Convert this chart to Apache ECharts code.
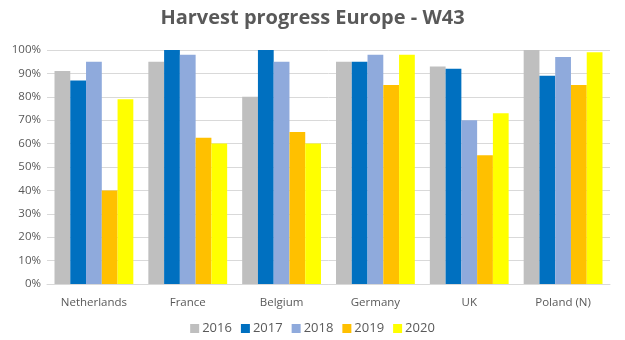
<!DOCTYPE html>
<html><head><meta charset="utf-8">
<script src="https://cdn.jsdelivr.net/npm/echarts@6/dist/echarts.min.js"></script>
<style>html,body{margin:0;padding:0;background:#fff}#c{width:625px;height:340px}</style>
</head><body><div id="c"></div>
<script>
const categories = ["Netherlands","France","Belgium","Germany","UK","Poland (N)"];
const years = ["2016","2017","2018","2019","2020"];
const v2016 = [91, 95, 80, 95, 93, 100];
const v2017 = [87, 100, 100, 95, 92, 89];
const v2018 = [95, 98, 95, 98, 70, 97];
const v2019 = [40, 62.5, 65, 85, 55, 85];
const v2020 = [79, 60, 60, 98, 73, 99];
const colors = ["#bfbfbf","#0070c0","#8faadc","#ffc000","#ffff00"];
const allData = [v2016, v2017, v2018, v2019, v2020];

const chart = echarts.init(document.getElementById('c'));
chart.setOption({
  animation:false,
  title:{text:"Harvest progress Europe - W43", left:'center', top:3,
    textStyle:{fontFamily:"Open Sans", fontWeight:'bold', fontSize:20, color:'#595959'}},
  legend:{bottom:0, left:'center', itemWidth:9, itemHeight:9, itemGap:9, icon:'rect',
    textStyle:{fontFamily:"Open Sans", fontSize:13, color:'#595959', padding:[0,0,0,-2]},
    data:years},
  grid:{left:47, right:15, top:50, bottom:56},
  xAxis:{type:'category', data:categories,
    axisLine:{lineStyle:{color:'#d9d9d9'}}, axisTick:{show:false},
    axisLabel:{fontFamily:"Open Sans", fontSize:11.5, color:'#595959', margin:13}},
  yAxis:{type:'value', min:0, max:100, interval:10,
    axisLine:{show:false}, axisTick:{show:false},
    splitLine:{lineStyle:{color:'#d9d9d9'}},
    axisLabel:{formatter:'{value}%', fontFamily:"Open Sans", fontSize:11.5, color:'#595959', margin:6}},
  series: years.map((y,i)=>({name:y, type:'bar', data:allData[i], itemStyle:{color:colors[i]},
    barGap:'0%', barCategoryGap:'16%'}))
});
</script></body></html>
